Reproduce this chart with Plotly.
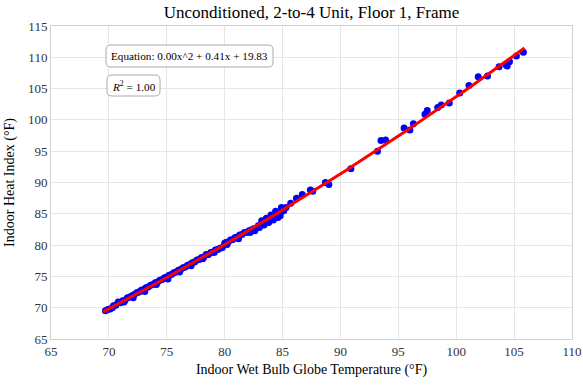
import numpy as np
import plotly.graph_objects as go

wbgt = [69.7, 69.9, 70.1, 70.4, 70.6, 70.8, 71.0, 71.2, 71.4, 71.6, 71.8, 72.0, 72.2, 72.4, 72.6, 72.8,
        73.0, 73.2, 73.4, 73.6, 73.8, 74.0, 74.2, 74.4, 74.6, 74.8, 75.0, 75.2, 75.4, 75.6, 75.8, 76.0,
        76.2, 76.4, 76.6, 76.8, 77.0, 77.2, 77.4, 77.6, 77.8, 78.0, 78.2, 78.4, 78.6, 78.8, 79.0, 79.2,
        79.4, 79.6, 79.8, 80.0, 80.1, 80.3, 80.5, 80.7, 80.9, 81.1, 81.3, 81.5, 81.7, 81.9, 82.1, 82.3,
        82.5, 82.7, 82.9, 83.1, 83.3, 83.5, 83.7, 83.9, 84.1, 84.3, 84.5, 84.7, 84.9, 85.1, 85.3,
        70.3, 71.3, 72.1, 73.1, 74.1, 75.1, 76.1, 77.1, 78.1, 79.1, 80.2, 81.2, 82.2, 82.6, 83.0, 83.4,
        83.8, 84.2, 84.6, 84.8, 83.2, 83.6, 84.0, 84.4, 84.9,
        85.7, 86.2, 86.7, 87.4, 87.6, 88.7, 89.0, 90.9, 93.2, 93.5, 93.9, 95.5, 96.0, 96.3, 97.3, 97.5,
        98.4, 98.7, 99.4, 100.3, 101.1, 101.9, 102.7, 103.7, 104.3, 104.4, 104.6, 105.2, 105.8]
heat_index = [69.5, 69.7, 69.8, 70.3, 70.4, 70.9, 70.8, 71.1, 71.2, 71.6, 71.7, 71.9, 72.1, 72.4, 72.5, 72.8,
              72.9, 73.2, 73.3, 73.6, 73.7, 74.0, 74.1, 74.4, 74.5, 74.8, 74.9, 75.2, 75.3, 75.6, 75.7, 76.0,
              76.1, 76.4, 76.5, 76.8, 76.9, 77.2, 77.3, 77.6, 77.7, 78.0, 78.1, 78.5, 78.5, 78.8, 78.9, 79.2,
              79.3, 79.5, 79.6, 80.3, 80.4, 80.5, 80.8, 80.9, 81.2, 81.3, 81.6, 81.7, 82.0, 82.0, 82.3, 82.4,
              82.6, 82.7, 83.1, 83.2, 83.5, 83.6, 84.0, 84.1, 84.3, 84.6, 84.8, 85.2, 85.4, 85.5, 86.0,
              70.0, 70.9, 71.6, 72.6, 73.7, 74.6, 75.7, 76.7, 77.8, 78.8, 80.1, 81.0, 82.0, 82.3, 82.8, 83.2,
              83.6, 84.0, 84.4, 84.7, 83.9, 84.3, 84.8, 85.4, 86.0,
              86.7, 87.5, 88.1, 88.8, 88.6, 90.0, 89.7, 92.2, 95.0, 96.7, 96.8, 98.7, 98.4, 99.4, 100.9, 101.5,
              102.0, 102.4, 102.7, 104.3, 105.5, 106.9, 107.0, 108.5, 108.8, 108.6, 109.3, 110.2, 110.8]

x_ticks = [65, 70, 75, 80, 85, 90, 95, 100, 105, 110]
y_ticks = [65, 70, 75, 80, 85, 90, 95, 100, 105, 110, 115]

coef = np.polyfit(wbgt, heat_index, 2)
xf = np.linspace(min(wbgt) - 0.2, max(wbgt) + 0.1, 200)
yf = np.polyval(coef, xf)

FONT = "Liberation Serif, Times New Roman, serif"
fig = go.Figure()
fig.add_trace(go.Scatter(x=wbgt, y=heat_index, mode="markers",
                         marker=dict(color="#0000ff", size=7), showlegend=False))
fig.add_trace(go.Scatter(x=xf, y=yf, mode="lines",
                         line=dict(color="#ff0000", width=3), showlegend=False))

W, H = 583, 385
L, R, T, B = 51, 11, 26, 46
pw, ph = W - L - R, H - T - B

def px2paper(px, py):
    return (px - L) / pw, (H - B - py) / ph

def rounded(x0, y0, x1, y1, r=5):
    a0, b1 = px2paper(x0, y0)
    a1, b0 = px2paper(x1, y1)
    rx, ry = r / pw, r / ph
    return (f"M{a0+rx},{b1} L{a1-rx},{b1} Q{a1},{b1} {a1},{b1-ry} L{a1},{b0+ry} Q{a1},{b0} {a1-rx},{b0} "
            f"L{a0+rx},{b0} Q{a0},{b0} {a0},{b0+ry} L{a0},{b1-ry} Q{a0},{b1} {a0+rx},{b1} Z")

for box in [(106, 45, 273, 67), (107, 75, 160, 96)]:
    fig.add_shape(type="path", path=rounded(*box), xref="paper", yref="paper",
                  line=dict(color="#aaaaaa", width=1), fillcolor="white", layer="above")

ex, ey = px2paper(189.5, 56)
rx_, ry_ = px2paper(133.5, 85.5)
fig.add_annotation(x=ex, y=ey, xref="paper", yref="paper", showarrow=False, xanchor="center", yanchor="middle",
                   text="Equation: 0.00x^2 + 0.41x + 19.83", font=dict(family=FONT, size=11.2, color="black"))
fig.add_annotation(x=rx_, y=ry_, xref="paper", yref="paper", showarrow=False, xanchor="center", yanchor="middle",
                   text="<i>R</i><sup>2</sup> = 1.00", font=dict(family=FONT, size=11.2, color="black"))

axis_common = dict(showgrid=True, gridcolor="#e6e6e6", gridwidth=1, showline=True, linecolor="#d0d0d0",
                   linewidth=1, mirror=True, zeroline=False, ticks="", automargin=False,
                   tickfont=dict(family=FONT, size=13, color="#333"))
fig.update_xaxes(range=[65, 110], tickvals=x_ticks, title=dict(text="Indoor Wet Bulb Globe Temperature (°F)",
                 font=dict(family=FONT, size=14, color="black"), standoff=6), **axis_common)
fig.update_yaxes(range=[65, 115], tickvals=y_ticks, title=dict(text="Indoor Heat Index (°F)",
                 font=dict(family=FONT, size=14, color="black"), standoff=10), **axis_common)
fig.update_layout(width=W, height=H, margin=dict(l=L, r=R, t=T, b=B),
                  paper_bgcolor="white", plot_bgcolor="white", font=dict(family=FONT),
                  title=dict(text="Unconditioned, 2-to-4 Unit, Floor 1, Frame", x=(L + pw / 2) / W, xanchor="center",
                             y=1 - 12 / H, yanchor="middle", font=dict(family=FONT, size=17, color="black")))
fig.write_html("out.html")
